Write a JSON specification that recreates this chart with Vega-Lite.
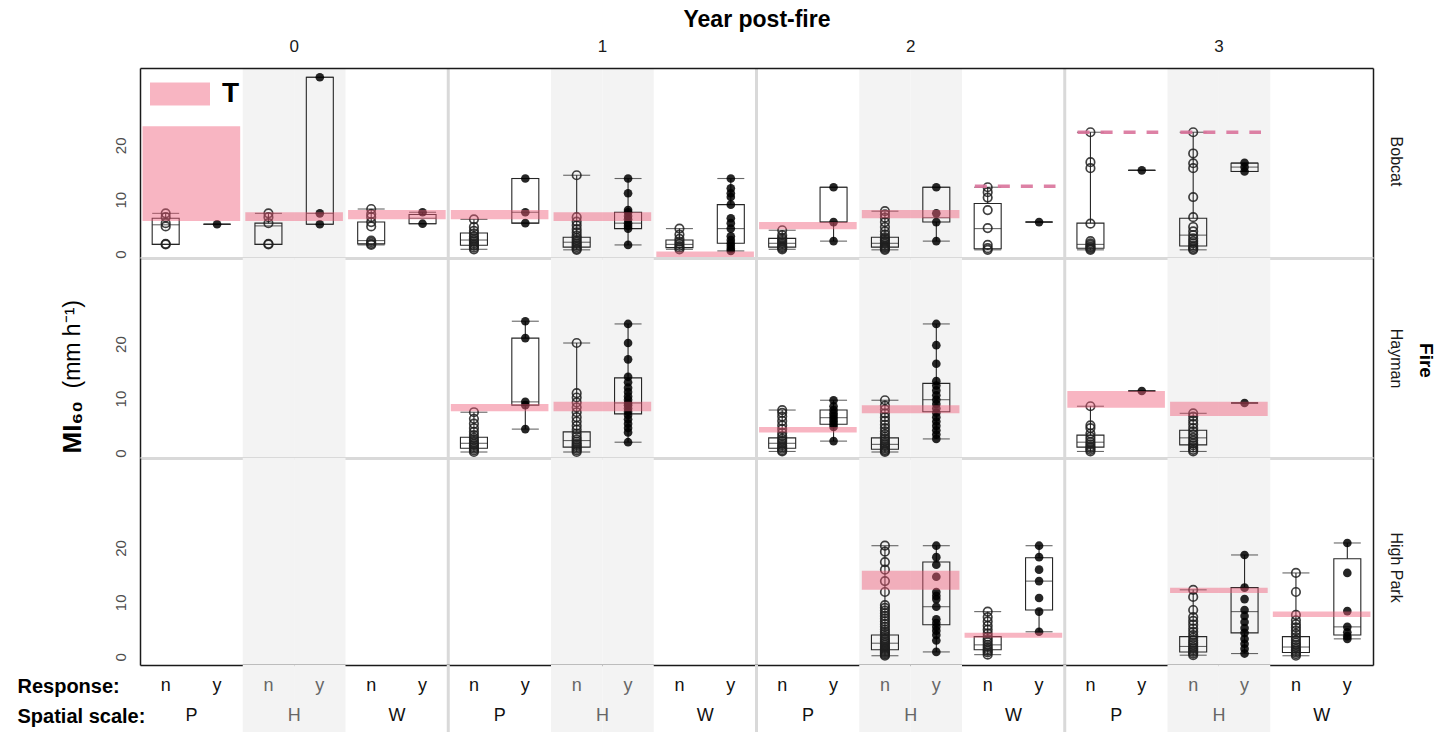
{
  "$schema": "https://vega.github.io/schema/vega-lite/v6.json",
  "padding": {"left": 17, "top": 8, "right": 5, "bottom": 0},
  "config": {
    "font": "Liberation Sans",
    "view": {"stroke": null},
    "axis": {"grid": false, "labelFont": "Liberation Sans", "titleFont": "Liberation Sans"},
    "scale": {"bandPaddingInner": 0, "bandPaddingOuter": 0}
  },
  "datasets": {
    "shade": [{"s": "0 H n"}, {"s": "0 H y"}, {"s": "1 H n"}, {"s": "1 H y"}, {"s": "2 H n"}, {"s": "2 H y"}, {"s": "3 H n"}, {"s": "3 H y"}],
    "seps": [{"s": "1 P n"}, {"s": "2 P n"}, {"s": "3 P n"}],
    "strip": [
      {"row": "Response:", "s": "0 P n", "t": "n"}, {"row": "Response:", "s": "0 P y", "t": "y"},
      {"row": "Response:", "s": "0 H n", "t": "n"}, {"row": "Response:", "s": "0 H y", "t": "y"},
      {"row": "Response:", "s": "0 W n", "t": "n"}, {"row": "Response:", "s": "0 W y", "t": "y"},
      {"row": "Response:", "s": "1 P n", "t": "n"}, {"row": "Response:", "s": "1 P y", "t": "y"},
      {"row": "Response:", "s": "1 H n", "t": "n"}, {"row": "Response:", "s": "1 H y", "t": "y"},
      {"row": "Response:", "s": "1 W n", "t": "n"}, {"row": "Response:", "s": "1 W y", "t": "y"},
      {"row": "Response:", "s": "2 P n", "t": "n"}, {"row": "Response:", "s": "2 P y", "t": "y"},
      {"row": "Response:", "s": "2 H n", "t": "n"}, {"row": "Response:", "s": "2 H y", "t": "y"},
      {"row": "Response:", "s": "2 W n", "t": "n"}, {"row": "Response:", "s": "2 W y", "t": "y"},
      {"row": "Response:", "s": "3 P n", "t": "n"}, {"row": "Response:", "s": "3 P y", "t": "y"},
      {"row": "Response:", "s": "3 H n", "t": "n"}, {"row": "Response:", "s": "3 H y", "t": "y"},
      {"row": "Response:", "s": "3 W n", "t": "n"}, {"row": "Response:", "s": "3 W y", "t": "y"},
      {"row": "Spatial scale:", "s": "0 P n", "t": "P"}, {"row": "Spatial scale:", "s": "0 H n", "t": "H"}, {"row": "Spatial scale:", "s": "0 W n", "t": "W"},
      {"row": "Spatial scale:", "s": "1 P n", "t": "P"}, {"row": "Spatial scale:", "s": "1 H n", "t": "H"}, {"row": "Spatial scale:", "s": "1 W n", "t": "W"},
      {"row": "Spatial scale:", "s": "2 P n", "t": "P"}, {"row": "Spatial scale:", "s": "2 H n", "t": "H"}, {"row": "Spatial scale:", "s": "2 W n", "t": "W"},
      {"row": "Spatial scale:", "s": "3 P n", "t": "P"}, {"row": "Spatial scale:", "s": "3 H n", "t": "H"}, {"row": "Spatial scale:", "s": "3 W n", "t": "W"}
    ],
    "bands": [
      {"f": "Bobcat", "a": "0 P n", "b": "0 P y", "lo": 6.1, "hi": 23.5},
      {"f": "Bobcat", "a": "0 H n", "b": "0 H y", "lo": 6.1, "hi": 7.7},
      {"f": "Bobcat", "a": "0 W n", "b": "0 W y", "lo": 6.4, "hi": 8.1},
      {"f": "Bobcat", "a": "1 P n", "b": "1 P y", "lo": 6.4, "hi": 8.1},
      {"f": "Bobcat", "a": "1 H n", "b": "1 H y", "lo": 6.1, "hi": 7.7},
      {"f": "Bobcat", "a": "1 W n", "b": "1 W y", "lo": -0.7, "hi": 0.5},
      {"f": "Bobcat", "a": "2 P n", "b": "2 P y", "lo": 4.6, "hi": 5.9},
      {"f": "Bobcat", "a": "2 H n", "b": "2 H y", "lo": 6.6, "hi": 8.1},
      {"f": "Hayman", "a": "1 P n", "b": "1 P y", "lo": 7.7, "hi": 9.0},
      {"f": "Hayman", "a": "1 H n", "b": "1 H y", "lo": 7.7, "hi": 9.4},
      {"f": "Hayman", "a": "2 P n", "b": "2 P y", "lo": 3.8, "hi": 4.8},
      {"f": "Hayman", "a": "2 H n", "b": "2 H y", "lo": 7.3, "hi": 8.8},
      {"f": "Hayman", "a": "3 P n", "b": "3 P y", "lo": 8.3, "hi": 11.4},
      {"f": "Hayman", "a": "3 H n", "b": "3 H y", "lo": 6.8, "hi": 9.4},
      {"f": "High Park", "a": "2 H n", "b": "2 H y", "lo": 12.3, "hi": 15.8},
      {"f": "High Park", "a": "2 W n", "b": "2 W y", "lo": 3.5, "hi": 4.4},
      {"f": "High Park", "a": "3 H n", "b": "3 H y", "lo": 11.7, "hi": 12.7},
      {"f": "High Park", "a": "3 W n", "b": "3 W y", "lo": 7.3, "hi": 8.3}
    ],
    "dash": [
      {"f": "Bobcat", "a": "2 W n", "b": "2 W y", "v": 12.5},
      {"f": "Bobcat", "a": "3 P n", "b": "3 P y", "v": 22.4},
      {"f": "Bobcat", "a": "3 H n", "b": "3 H y", "v": 22.4}
    ],
    "boxes": [
      {"f": "Bobcat", "s": "0 P n", "lo": 1.8, "q1": 1.8, "med": 5.4, "q3": 6.6, "hi": 7.5},
      {"f": "Bobcat", "s": "0 P y", "lo": 5.5, "q1": 5.5, "med": 5.5, "q3": 5.5, "hi": 5.5},
      {"f": "Bobcat", "s": "0 H n", "lo": 1.8, "q1": 1.8, "med": 5.2, "q3": 5.7, "hi": 7.5},
      {"f": "Bobcat", "s": "0 H y", "lo": 5.5, "q1": 5.5, "med": 7.5, "q3": 32.5, "hi": 32.5},
      {"f": "Bobcat", "s": "0 W n", "lo": 1.7, "q1": 1.9, "med": 2.5, "q3": 5.9, "hi": 8.3},
      {"f": "Bobcat", "s": "0 W y", "lo": 5.6, "q1": 5.6, "med": 6.6, "q3": 7.3, "hi": 7.7},
      {"f": "Bobcat", "s": "1 P n", "lo": 0.9, "q1": 1.65, "med": 2.6, "q3": 3.9, "hi": 6.4},
      {"f": "Bobcat", "s": "1 P y", "lo": 5.7, "q1": 5.7, "med": 7.7, "q3": 13.9, "hi": 13.9},
      {"f": "Bobcat", "s": "1 H n", "lo": 0.8, "q1": 1.3, "med": 2.2, "q3": 3.1, "hi": 14.5},
      {"f": "Bobcat", "s": "1 H y", "lo": 1.7, "q1": 4.7, "med": 5.7, "q3": 7.7, "hi": 13.9},
      {"f": "Bobcat", "s": "1 W n", "lo": 0.9, "q1": 1.2, "med": 1.8, "q3": 2.6, "hi": 4.7},
      {"f": "Bobcat", "s": "1 W y", "lo": 0.6, "q1": 2.0, "med": 4.7, "q3": 9.1, "hi": 13.9},
      {"f": "Bobcat", "s": "2 P n", "lo": 0.9, "q1": 1.3, "med": 2.0, "q3": 2.9, "hi": 4.4},
      {"f": "Bobcat", "s": "2 P y", "lo": 2.4, "q1": 5.9, "med": 5.9, "q3": 12.3, "hi": 12.3},
      {"f": "Bobcat", "s": "2 H n", "lo": 0.8, "q1": 1.3, "med": 2.0, "q3": 3.1, "hi": 7.9},
      {"f": "Bobcat", "s": "2 H y", "lo": 2.4, "q1": 5.9, "med": 6.7, "q3": 12.3, "hi": 12.3},
      {"f": "Bobcat", "s": "2 W n", "lo": 0.8, "q1": 1.0, "med": 4.7, "q3": 9.3, "hi": 12.3},
      {"f": "Bobcat", "s": "2 W y", "lo": 5.9, "q1": 5.9, "med": 5.9, "q3": 5.9, "hi": 5.9},
      {"f": "Bobcat", "s": "3 P n", "lo": 0.8, "q1": 1.1, "med": 1.8, "q3": 5.7, "hi": 22.4},
      {"f": "Bobcat", "s": "3 P y", "lo": 15.4, "q1": 15.4, "med": 15.4, "q3": 15.4, "hi": 15.4},
      {"f": "Bobcat", "s": "3 H n", "lo": 0.8, "q1": 1.5, "med": 3.5, "q3": 6.6, "hi": 22.4},
      {"f": "Bobcat", "s": "3 H y", "lo": 15.2, "q1": 15.2, "med": 16.0, "q3": 16.7, "hi": 16.8},
      {"f": "Hayman", "s": "1 P n", "lo": 0.2, "q1": 0.9, "med": 1.8, "q3": 2.9, "hi": 7.5},
      {"f": "Hayman", "s": "1 P y", "lo": 4.4, "q1": 8.8, "med": 9.4, "q3": 21.1, "hi": 24.2},
      {"f": "Hayman", "s": "1 H n", "lo": 0.2, "q1": 1.1, "med": 2.3, "q3": 3.9, "hi": 20.2},
      {"f": "Hayman", "s": "1 H y", "lo": 2.0, "q1": 7.2, "med": 9.2, "q3": 13.8, "hi": 23.7},
      {"f": "Hayman", "s": "2 P n", "lo": 0.3, "q1": 0.9, "med": 1.8, "q3": 2.8, "hi": 7.9},
      {"f": "Hayman", "s": "2 P y", "lo": 2.2, "q1": 5.3, "med": 6.5, "q3": 7.9, "hi": 9.7},
      {"f": "Hayman", "s": "2 H n", "lo": 0.2, "q1": 0.7, "med": 1.6, "q3": 2.8, "hi": 9.7},
      {"f": "Hayman", "s": "2 H y", "lo": 2.6, "q1": 7.6, "med": 9.8, "q3": 12.8, "hi": 23.7},
      {"f": "Hayman", "s": "3 P n", "lo": 0.3, "q1": 1.1, "med": 2.0, "q3": 3.3, "hi": 8.6},
      {"f": "Hayman", "s": "3 P y", "lo": 11.4, "q1": 11.4, "med": 11.4, "q3": 11.4, "hi": 11.4},
      {"f": "Hayman", "s": "3 H n", "lo": 0.3, "q1": 1.5, "med": 2.8, "q3": 4.2, "hi": 7.3},
      {"f": "Hayman", "s": "3 H y", "lo": 9.2, "q1": 9.2, "med": 9.2, "q3": 9.2, "hi": 9.2},
      {"f": "High Park", "s": "2 H n", "lo": 0.2, "q1": 1.3, "med": 2.5, "q3": 4.0, "hi": 20.4},
      {"f": "High Park", "s": "2 H y", "lo": 0.9, "q1": 5.9, "med": 9.2, "q3": 17.4, "hi": 20.4},
      {"f": "High Park", "s": "2 W n", "lo": 0.4, "q1": 1.3, "med": 2.2, "q3": 3.7, "hi": 8.3},
      {"f": "High Park", "s": "2 W y", "lo": 4.6, "q1": 8.6, "med": 13.9, "q3": 18.2, "hi": 20.4},
      {"f": "High Park", "s": "3 H n", "lo": 0.3, "q1": 0.9, "med": 1.9, "q3": 3.7, "hi": 12.3},
      {"f": "High Park", "s": "3 H y", "lo": 0.6, "q1": 4.4, "med": 8.3, "q3": 12.7, "hi": 18.7},
      {"f": "High Park", "s": "3 W n", "lo": 0.2, "q1": 0.8, "med": 1.8, "q3": 3.7, "hi": 15.4},
      {"f": "High Park", "s": "3 W y", "lo": 3.3, "q1": 4.0, "med": 5.5, "q3": 18.0, "hi": 20.9}
    ],
    "pts": [
      {"f":"Bobcat","s":"0 P n","v":1.8},{"f":"Bobcat","s":"0 P n","v":1.9},{"f":"Bobcat","s":"0 P n","v":5.1},{"f":"Bobcat","s":"0 P n","v":5.7},{"f":"Bobcat","s":"0 P n","v":6.8},{"f":"Bobcat","s":"0 P n","v":7.5},
      {"f":"Bobcat","s":"0 P y","v":5.5},
      {"f":"Bobcat","s":"0 H n","v":1.8},{"f":"Bobcat","s":"0 H n","v":1.9},{"f":"Bobcat","s":"0 H n","v":5.7},{"f":"Bobcat","s":"0 H n","v":6.8},{"f":"Bobcat","s":"0 H n","v":7.5},
      {"f":"Bobcat","s":"0 H y","v":5.5},{"f":"Bobcat","s":"0 H y","v":7.5},{"f":"Bobcat","s":"0 H y","v":32.5},
      {"f":"Bobcat","s":"0 W n","v":1.7},{"f":"Bobcat","s":"0 W n","v":1.9},{"f":"Bobcat","s":"0 W n","v":2.2},{"f":"Bobcat","s":"0 W n","v":2.5},{"f":"Bobcat","s":"0 W n","v":5.1},{"f":"Bobcat","s":"0 W n","v":5.9},{"f":"Bobcat","s":"0 W n","v":6.8},{"f":"Bobcat","s":"0 W n","v":7.4},{"f":"Bobcat","s":"0 W n","v":8.3},
      {"f":"Bobcat","s":"0 W y","v":5.6},{"f":"Bobcat","s":"0 W y","v":7.7},
      {"f":"Bobcat","s":"1 P n","v":0.9},{"f":"Bobcat","s":"1 P n","v":1.2},{"f":"Bobcat","s":"1 P n","v":1.5},{"f":"Bobcat","s":"1 P n","v":1.7},{"f":"Bobcat","s":"1 P n","v":2.0},{"f":"Bobcat","s":"1 P n","v":2.3},{"f":"Bobcat","s":"1 P n","v":2.6},{"f":"Bobcat","s":"1 P n","v":2.9},{"f":"Bobcat","s":"1 P n","v":3.3},{"f":"Bobcat","s":"1 P n","v":3.8},{"f":"Bobcat","s":"1 P n","v":4.3},{"f":"Bobcat","s":"1 P n","v":5.0},{"f":"Bobcat","s":"1 P n","v":6.4},
      {"f":"Bobcat","s":"1 P y","v":5.7},{"f":"Bobcat","s":"1 P y","v":7.7},{"f":"Bobcat","s":"1 P y","v":13.9},
      {"f":"Bobcat","s":"1 H n","v":0.8},{"f":"Bobcat","s":"1 H n","v":1.0},{"f":"Bobcat","s":"1 H n","v":1.3},{"f":"Bobcat","s":"1 H n","v":1.6},{"f":"Bobcat","s":"1 H n","v":1.9},{"f":"Bobcat","s":"1 H n","v":2.2},{"f":"Bobcat","s":"1 H n","v":2.6},{"f":"Bobcat","s":"1 H n","v":3.0},{"f":"Bobcat","s":"1 H n","v":3.4},{"f":"Bobcat","s":"1 H n","v":4.0},{"f":"Bobcat","s":"1 H n","v":4.6},{"f":"Bobcat","s":"1 H n","v":5.3},{"f":"Bobcat","s":"1 H n","v":6.0},{"f":"Bobcat","s":"1 H n","v":6.8},{"f":"Bobcat","s":"1 H n","v":14.5},
      {"f":"Bobcat","s":"1 H y","v":1.7},{"f":"Bobcat","s":"1 H y","v":4.7},{"f":"Bobcat","s":"1 H y","v":5.2},{"f":"Bobcat","s":"1 H y","v":5.7},{"f":"Bobcat","s":"1 H y","v":6.4},{"f":"Bobcat","s":"1 H y","v":7.0},{"f":"Bobcat","s":"1 H y","v":7.7},{"f":"Bobcat","s":"1 H y","v":8.1},{"f":"Bobcat","s":"1 H y","v":11.2},{"f":"Bobcat","s":"1 H y","v":13.9},
      {"f":"Bobcat","s":"1 W n","v":0.9},{"f":"Bobcat","s":"1 W n","v":1.2},{"f":"Bobcat","s":"1 W n","v":1.5},{"f":"Bobcat","s":"1 W n","v":1.9},{"f":"Bobcat","s":"1 W n","v":2.3},{"f":"Bobcat","s":"1 W n","v":2.8},{"f":"Bobcat","s":"1 W n","v":3.6},{"f":"Bobcat","s":"1 W n","v":4.7},
      {"f":"Bobcat","s":"1 W y","v":0.6},{"f":"Bobcat","s":"1 W y","v":1.0},{"f":"Bobcat","s":"1 W y","v":1.5},{"f":"Bobcat","s":"1 W y","v":2.0},{"f":"Bobcat","s":"1 W y","v":2.6},{"f":"Bobcat","s":"1 W y","v":3.3},{"f":"Bobcat","s":"1 W y","v":4.7},{"f":"Bobcat","s":"1 W y","v":5.7},{"f":"Bobcat","s":"1 W y","v":6.6},{"f":"Bobcat","s":"1 W y","v":9.1},{"f":"Bobcat","s":"1 W y","v":10.5},{"f":"Bobcat","s":"1 W y","v":11.2},{"f":"Bobcat","s":"1 W y","v":12.1},{"f":"Bobcat","s":"1 W y","v":13.9},
      {"f":"Bobcat","s":"2 P n","v":0.9},{"f":"Bobcat","s":"2 P n","v":1.1},{"f":"Bobcat","s":"2 P n","v":1.3},{"f":"Bobcat","s":"2 P n","v":1.5},{"f":"Bobcat","s":"2 P n","v":1.8},{"f":"Bobcat","s":"2 P n","v":2.1},{"f":"Bobcat","s":"2 P n","v":2.4},{"f":"Bobcat","s":"2 P n","v":2.7},{"f":"Bobcat","s":"2 P n","v":3.0},{"f":"Bobcat","s":"2 P n","v":3.5},{"f":"Bobcat","s":"2 P n","v":4.4},
      {"f":"Bobcat","s":"2 P y","v":2.4},{"f":"Bobcat","s":"2 P y","v":5.9},{"f":"Bobcat","s":"2 P y","v":12.3},
      {"f":"Bobcat","s":"2 H n","v":0.8},{"f":"Bobcat","s":"2 H n","v":1.0},{"f":"Bobcat","s":"2 H n","v":1.2},{"f":"Bobcat","s":"2 H n","v":1.4},{"f":"Bobcat","s":"2 H n","v":1.6},{"f":"Bobcat","s":"2 H n","v":1.9},{"f":"Bobcat","s":"2 H n","v":2.2},{"f":"Bobcat","s":"2 H n","v":2.5},{"f":"Bobcat","s":"2 H n","v":2.8},{"f":"Bobcat","s":"2 H n","v":3.1},{"f":"Bobcat","s":"2 H n","v":3.6},{"f":"Bobcat","s":"2 H n","v":4.2},{"f":"Bobcat","s":"2 H n","v":5.0},{"f":"Bobcat","s":"2 H n","v":5.9},{"f":"Bobcat","s":"2 H n","v":6.7},{"f":"Bobcat","s":"2 H n","v":7.3},{"f":"Bobcat","s":"2 H n","v":7.9},
      {"f":"Bobcat","s":"2 H y","v":2.4},{"f":"Bobcat","s":"2 H y","v":5.9},{"f":"Bobcat","s":"2 H y","v":7.5},{"f":"Bobcat","s":"2 H y","v":12.3},
      {"f":"Bobcat","s":"2 W n","v":0.8},{"f":"Bobcat","s":"2 W n","v":1.1},{"f":"Bobcat","s":"2 W n","v":1.7},{"f":"Bobcat","s":"2 W n","v":4.8},{"f":"Bobcat","s":"2 W n","v":8.1},{"f":"Bobcat","s":"2 W n","v":10.4},{"f":"Bobcat","s":"2 W n","v":11.4},{"f":"Bobcat","s":"2 W n","v":12.3},
      {"f":"Bobcat","s":"2 W y","v":5.9},
      {"f":"Bobcat","s":"3 P n","v":0.8},{"f":"Bobcat","s":"3 P n","v":1.0},{"f":"Bobcat","s":"3 P n","v":1.2},{"f":"Bobcat","s":"3 P n","v":1.4},{"f":"Bobcat","s":"3 P n","v":1.7},{"f":"Bobcat","s":"3 P n","v":2.0},{"f":"Bobcat","s":"3 P n","v":2.4},{"f":"Bobcat","s":"3 P n","v":5.6},{"f":"Bobcat","s":"3 P n","v":15.8},{"f":"Bobcat","s":"3 P n","v":16.9},{"f":"Bobcat","s":"3 P n","v":22.4},
      {"f":"Bobcat","s":"3 P y","v":15.4},
      {"f":"Bobcat","s":"3 H n","v":0.8},{"f":"Bobcat","s":"3 H n","v":1.0},{"f":"Bobcat","s":"3 H n","v":1.3},{"f":"Bobcat","s":"3 H n","v":1.6},{"f":"Bobcat","s":"3 H n","v":2.0},{"f":"Bobcat","s":"3 H n","v":2.4},{"f":"Bobcat","s":"3 H n","v":2.9},{"f":"Bobcat","s":"3 H n","v":3.5},{"f":"Bobcat","s":"3 H n","v":4.2},{"f":"Bobcat","s":"3 H n","v":5.0},{"f":"Bobcat","s":"3 H n","v":6.8},{"f":"Bobcat","s":"3 H n","v":10.5},{"f":"Bobcat","s":"3 H n","v":15.8},{"f":"Bobcat","s":"3 H n","v":16.7},{"f":"Bobcat","s":"3 H n","v":18.5},{"f":"Bobcat","s":"3 H n","v":22.4},
      {"f":"Bobcat","s":"3 H y","v":15.2},{"f":"Bobcat","s":"3 H y","v":16.0},{"f":"Bobcat","s":"3 H y","v":16.8},
      {"f":"Hayman","s":"1 P n","v":0.2},{"f":"Hayman","s":"1 P n","v":0.5},{"f":"Hayman","s":"1 P n","v":0.8},{"f":"Hayman","s":"1 P n","v":1.1},{"f":"Hayman","s":"1 P n","v":1.4},{"f":"Hayman","s":"1 P n","v":1.7},{"f":"Hayman","s":"1 P n","v":2.0},{"f":"Hayman","s":"1 P n","v":2.4},{"f":"Hayman","s":"1 P n","v":2.8},{"f":"Hayman","s":"1 P n","v":3.3},{"f":"Hayman","s":"1 P n","v":3.9},{"f":"Hayman","s":"1 P n","v":4.6},{"f":"Hayman","s":"1 P n","v":5.4},{"f":"Hayman","s":"1 P n","v":6.3},{"f":"Hayman","s":"1 P n","v":7.5},
      {"f":"Hayman","s":"1 P y","v":4.4},{"f":"Hayman","s":"1 P y","v":8.8},{"f":"Hayman","s":"1 P y","v":9.4},{"f":"Hayman","s":"1 P y","v":21.1},{"f":"Hayman","s":"1 P y","v":24.2},
      {"f":"Hayman","s":"1 H n","v":0.2},{"f":"Hayman","s":"1 H n","v":0.5},{"f":"Hayman","s":"1 H n","v":0.8},{"f":"Hayman","s":"1 H n","v":1.1},{"f":"Hayman","s":"1 H n","v":1.4},{"f":"Hayman","s":"1 H n","v":1.7},{"f":"Hayman","s":"1 H n","v":2.1},{"f":"Hayman","s":"1 H n","v":2.5},{"f":"Hayman","s":"1 H n","v":3.0},{"f":"Hayman","s":"1 H n","v":3.6},{"f":"Hayman","s":"1 H n","v":4.3},{"f":"Hayman","s":"1 H n","v":5.0},{"f":"Hayman","s":"1 H n","v":5.8},{"f":"Hayman","s":"1 H n","v":6.6},{"f":"Hayman","s":"1 H n","v":7.5},{"f":"Hayman","s":"1 H n","v":8.4},{"f":"Hayman","s":"1 H n","v":9.3},{"f":"Hayman","s":"1 H n","v":10.2},{"f":"Hayman","s":"1 H n","v":11.0},{"f":"Hayman","s":"1 H n","v":20.2},
      {"f":"Hayman","s":"1 H y","v":2.0},{"f":"Hayman","s":"1 H y","v":3.8},{"f":"Hayman","s":"1 H y","v":4.6},{"f":"Hayman","s":"1 H y","v":5.4},{"f":"Hayman","s":"1 H y","v":6.2},{"f":"Hayman","s":"1 H y","v":7.0},{"f":"Hayman","s":"1 H y","v":7.6},{"f":"Hayman","s":"1 H y","v":8.2},{"f":"Hayman","s":"1 H y","v":8.8},{"f":"Hayman","s":"1 H y","v":9.2},{"f":"Hayman","s":"1 H y","v":9.8},{"f":"Hayman","s":"1 H y","v":10.4},{"f":"Hayman","s":"1 H y","v":11.2},{"f":"Hayman","s":"1 H y","v":12.0},{"f":"Hayman","s":"1 H y","v":13.0},{"f":"Hayman","s":"1 H y","v":14.0},{"f":"Hayman","s":"1 H y","v":17.2},{"f":"Hayman","s":"1 H y","v":20.2},{"f":"Hayman","s":"1 H y","v":23.7},
      {"f":"Hayman","s":"2 P n","v":0.3},{"f":"Hayman","s":"2 P n","v":0.5},{"f":"Hayman","s":"2 P n","v":0.8},{"f":"Hayman","s":"2 P n","v":1.1},{"f":"Hayman","s":"2 P n","v":1.4},{"f":"Hayman","s":"2 P n","v":1.8},{"f":"Hayman","s":"2 P n","v":2.2},{"f":"Hayman","s":"2 P n","v":2.6},{"f":"Hayman","s":"2 P n","v":3.1},{"f":"Hayman","s":"2 P n","v":3.7},{"f":"Hayman","s":"2 P n","v":4.4},{"f":"Hayman","s":"2 P n","v":5.1},{"f":"Hayman","s":"2 P n","v":5.9},{"f":"Hayman","s":"2 P n","v":6.7},{"f":"Hayman","s":"2 P n","v":7.4},{"f":"Hayman","s":"2 P n","v":7.9},
      {"f":"Hayman","s":"2 P y","v":2.2},{"f":"Hayman","s":"2 P y","v":4.8},{"f":"Hayman","s":"2 P y","v":5.3},{"f":"Hayman","s":"2 P y","v":5.8},{"f":"Hayman","s":"2 P y","v":6.3},{"f":"Hayman","s":"2 P y","v":6.8},{"f":"Hayman","s":"2 P y","v":7.3},{"f":"Hayman","s":"2 P y","v":7.9},{"f":"Hayman","s":"2 P y","v":8.6},{"f":"Hayman","s":"2 P y","v":9.7},
      {"f":"Hayman","s":"2 H n","v":0.2},{"f":"Hayman","s":"2 H n","v":0.4},{"f":"Hayman","s":"2 H n","v":0.6},{"f":"Hayman","s":"2 H n","v":0.9},{"f":"Hayman","s":"2 H n","v":1.2},{"f":"Hayman","s":"2 H n","v":1.5},{"f":"Hayman","s":"2 H n","v":1.8},{"f":"Hayman","s":"2 H n","v":2.2},{"f":"Hayman","s":"2 H n","v":2.6},{"f":"Hayman","s":"2 H n","v":3.0},{"f":"Hayman","s":"2 H n","v":3.5},{"f":"Hayman","s":"2 H n","v":4.0},{"f":"Hayman","s":"2 H n","v":4.6},{"f":"Hayman","s":"2 H n","v":5.2},{"f":"Hayman","s":"2 H n","v":5.9},{"f":"Hayman","s":"2 H n","v":6.6},{"f":"Hayman","s":"2 H n","v":7.3},{"f":"Hayman","s":"2 H n","v":8.0},{"f":"Hayman","s":"2 H n","v":8.7},{"f":"Hayman","s":"2 H n","v":9.7},
      {"f":"Hayman","s":"2 H y","v":2.6},{"f":"Hayman","s":"2 H y","v":3.4},{"f":"Hayman","s":"2 H y","v":4.2},{"f":"Hayman","s":"2 H y","v":5.0},{"f":"Hayman","s":"2 H y","v":5.8},{"f":"Hayman","s":"2 H y","v":6.6},{"f":"Hayman","s":"2 H y","v":7.4},{"f":"Hayman","s":"2 H y","v":8.2},{"f":"Hayman","s":"2 H y","v":9.0},{"f":"Hayman","s":"2 H y","v":9.8},{"f":"Hayman","s":"2 H y","v":10.6},{"f":"Hayman","s":"2 H y","v":11.5},{"f":"Hayman","s":"2 H y","v":12.4},{"f":"Hayman","s":"2 H y","v":13.2},{"f":"Hayman","s":"2 H y","v":16.4},{"f":"Hayman","s":"2 H y","v":19.8},{"f":"Hayman","s":"2 H y","v":23.7},
      {"f":"Hayman","s":"3 P n","v":0.3},{"f":"Hayman","s":"3 P n","v":0.6},{"f":"Hayman","s":"3 P n","v":0.9},{"f":"Hayman","s":"3 P n","v":1.2},{"f":"Hayman","s":"3 P n","v":1.6},{"f":"Hayman","s":"3 P n","v":2.0},{"f":"Hayman","s":"3 P n","v":2.5},{"f":"Hayman","s":"3 P n","v":3.0},{"f":"Hayman","s":"3 P n","v":3.6},{"f":"Hayman","s":"3 P n","v":4.6},{"f":"Hayman","s":"3 P n","v":5.1},{"f":"Hayman","s":"3 P n","v":8.6},
      {"f":"Hayman","s":"3 P y","v":11.4},
      {"f":"Hayman","s":"3 H n","v":0.3},{"f":"Hayman","s":"3 H n","v":0.6},{"f":"Hayman","s":"3 H n","v":1.0},{"f":"Hayman","s":"3 H n","v":1.4},{"f":"Hayman","s":"3 H n","v":1.8},{"f":"Hayman","s":"3 H n","v":2.3},{"f":"Hayman","s":"3 H n","v":2.8},{"f":"Hayman","s":"3 H n","v":3.4},{"f":"Hayman","s":"3 H n","v":4.0},{"f":"Hayman","s":"3 H n","v":4.6},{"f":"Hayman","s":"3 H n","v":5.3},{"f":"Hayman","s":"3 H n","v":6.0},{"f":"Hayman","s":"3 H n","v":6.7},{"f":"Hayman","s":"3 H n","v":7.3},
      {"f":"Hayman","s":"3 H y","v":9.2},
      {"f":"High Park","s":"2 H n","v":0.2},{"f":"High Park","s":"2 H n","v":0.4},{"f":"High Park","s":"2 H n","v":0.6},{"f":"High Park","s":"2 H n","v":0.8},{"f":"High Park","s":"2 H n","v":1.0},{"f":"High Park","s":"2 H n","v":1.2},{"f":"High Park","s":"2 H n","v":1.4},{"f":"High Park","s":"2 H n","v":1.6},{"f":"High Park","s":"2 H n","v":1.9},{"f":"High Park","s":"2 H n","v":2.2},{"f":"High Park","s":"2 H n","v":2.5},{"f":"High Park","s":"2 H n","v":2.8},{"f":"High Park","s":"2 H n","v":3.1},{"f":"High Park","s":"2 H n","v":3.4},{"f":"High Park","s":"2 H n","v":3.8},{"f":"High Park","s":"2 H n","v":4.2},{"f":"High Park","s":"2 H n","v":4.6},{"f":"High Park","s":"2 H n","v":5.0},{"f":"High Park","s":"2 H n","v":5.5},{"f":"High Park","s":"2 H n","v":6.0},{"f":"High Park","s":"2 H n","v":6.5},{"f":"High Park","s":"2 H n","v":7.0},{"f":"High Park","s":"2 H n","v":7.5},{"f":"High Park","s":"2 H n","v":8.0},{"f":"High Park","s":"2 H n","v":8.5},{"f":"High Park","s":"2 H n","v":9.0},{"f":"High Park","s":"2 H n","v":9.5},{"f":"High Park","s":"2 H n","v":11.9},{"f":"High Park","s":"2 H n","v":13.9},{"f":"High Park","s":"2 H n","v":16.0},{"f":"High Park","s":"2 H n","v":17.4},{"f":"High Park","s":"2 H n","v":19.3},{"f":"High Park","s":"2 H n","v":20.4},
      {"f":"High Park","s":"2 H y","v":0.9},{"f":"High Park","s":"2 H y","v":3.0},{"f":"High Park","s":"2 H y","v":4.0},{"f":"High Park","s":"2 H y","v":4.8},{"f":"High Park","s":"2 H y","v":5.5},{"f":"High Park","s":"2 H y","v":6.2},{"f":"High Park","s":"2 H y","v":6.9},{"f":"High Park","s":"2 H y","v":9.2},{"f":"High Park","s":"2 H y","v":10.6},{"f":"High Park","s":"2 H y","v":11.2},{"f":"High Park","s":"2 H y","v":11.9},{"f":"High Park","s":"2 H y","v":14.7},{"f":"High Park","s":"2 H y","v":16.9},{"f":"High Park","s":"2 H y","v":18.3},{"f":"High Park","s":"2 H y","v":20.4},
      {"f":"High Park","s":"2 W n","v":0.4},{"f":"High Park","s":"2 W n","v":0.8},{"f":"High Park","s":"2 W n","v":1.1},{"f":"High Park","s":"2 W n","v":1.4},{"f":"High Park","s":"2 W n","v":1.8},{"f":"High Park","s":"2 W n","v":2.2},{"f":"High Park","s":"2 W n","v":2.7},{"f":"High Park","s":"2 W n","v":3.2},{"f":"High Park","s":"2 W n","v":3.7},{"f":"High Park","s":"2 W n","v":4.3},{"f":"High Park","s":"2 W n","v":5.0},{"f":"High Park","s":"2 W n","v":5.7},{"f":"High Park","s":"2 W n","v":6.5},{"f":"High Park","s":"2 W n","v":7.3},{"f":"High Park","s":"2 W n","v":8.3},
      {"f":"High Park","s":"2 W y","v":4.6},{"f":"High Park","s":"2 W y","v":8.3},{"f":"High Park","s":"2 W y","v":10.8},{"f":"High Park","s":"2 W y","v":13.9},{"f":"High Park","s":"2 W y","v":16.0},{"f":"High Park","s":"2 W y","v":18.3},{"f":"High Park","s":"2 W y","v":20.4},
      {"f":"High Park","s":"3 H n","v":0.3},{"f":"High Park","s":"3 H n","v":0.6},{"f":"High Park","s":"3 H n","v":0.9},{"f":"High Park","s":"3 H n","v":1.2},{"f":"High Park","s":"3 H n","v":1.5},{"f":"High Park","s":"3 H n","v":1.8},{"f":"High Park","s":"3 H n","v":2.2},{"f":"High Park","s":"3 H n","v":2.6},{"f":"High Park","s":"3 H n","v":3.0},{"f":"High Park","s":"3 H n","v":3.5},{"f":"High Park","s":"3 H n","v":4.0},{"f":"High Park","s":"3 H n","v":4.6},{"f":"High Park","s":"3 H n","v":5.2},{"f":"High Park","s":"3 H n","v":5.9},{"f":"High Park","s":"3 H n","v":6.6},{"f":"High Park","s":"3 H n","v":7.3},{"f":"High Park","s":"3 H n","v":8.6},{"f":"High Park","s":"3 H n","v":11.0},{"f":"High Park","s":"3 H n","v":12.3},
      {"f":"High Park","s":"3 H y","v":0.6},{"f":"High Park","s":"3 H y","v":1.5},{"f":"High Park","s":"3 H y","v":2.4},{"f":"High Park","s":"3 H y","v":3.3},{"f":"High Park","s":"3 H y","v":4.4},{"f":"High Park","s":"3 H y","v":5.3},{"f":"High Park","s":"3 H y","v":6.4},{"f":"High Park","s":"3 H y","v":7.5},{"f":"High Park","s":"3 H y","v":8.6},{"f":"High Park","s":"3 H y","v":10.6},{"f":"High Park","s":"3 H y","v":12.7},{"f":"High Park","s":"3 H y","v":18.7},
      {"f":"High Park","s":"3 W n","v":0.2},{"f":"High Park","s":"3 W n","v":0.5},{"f":"High Park","s":"3 W n","v":0.8},{"f":"High Park","s":"3 W n","v":1.1},{"f":"High Park","s":"3 W n","v":1.4},{"f":"High Park","s":"3 W n","v":1.8},{"f":"High Park","s":"3 W n","v":2.2},{"f":"High Park","s":"3 W n","v":2.6},{"f":"High Park","s":"3 W n","v":3.1},{"f":"High Park","s":"3 W n","v":3.6},{"f":"High Park","s":"3 W n","v":4.2},{"f":"High Park","s":"3 W n","v":4.8},{"f":"High Park","s":"3 W n","v":5.4},{"f":"High Park","s":"3 W n","v":6.0},{"f":"High Park","s":"3 W n","v":6.7},{"f":"High Park","s":"3 W n","v":7.7},{"f":"High Park","s":"3 W n","v":11.9},{"f":"High Park","s":"3 W n","v":15.4},
      {"f":"High Park","s":"3 W y","v":3.3},{"f":"High Park","s":"3 W y","v":3.8},{"f":"High Park","s":"3 W y","v":4.5},{"f":"High Park","s":"3 W y","v":5.5},{"f":"High Park","s":"3 W y","v":8.4},{"f":"High Park","s":"3 W y","v":15.4},{"f":"High Park","s":"3 W y","v":20.9}
    ]
  },
  "spacing": 0,
  "bounds": "flush",
  "resolve": {"scale": {"color": "independent"}, "legend": {"color": "independent"}},
  "vconcat": [
    {
      "width": 1233, "height": 190,
      "resolve": {"axis": {"x": "independent", "y": "independent"}},
      "layer": [
        {"data": {"name": "shade"}, "mark": {"type": "rect", "color": "#f3f3f3"},
         "encoding": {"x": {"field": "s", "type": "nominal",
           "scale": {"type": "band", "domain": ["0 P n","0 P y","0 H n","0 H y","0 W n","0 W y","1 P n","1 P y","1 H n","1 H y","1 W n","1 W y","2 P n","2 P y","2 H n","2 H y","2 W n","2 W y","3 P n","3 P y","3 H n","3 H y","3 W n","3 W y"], "paddingInner": 0, "paddingOuter": 0},
           "axis": null}}},
        {"data": {"name": "seps"}, "mark": {"type": "rule", "color": "#d9d9d9", "strokeWidth": 3},
         "encoding": {"x": {"field": "s", "type": "nominal", "bandPosition": 0, "axis": null}}},
        {"data": {"name": "boxes"}, "transform": [{"filter": "datum.f === 'Bobcat'"}],
         "mark": {"type": "rule", "color": "#262626", "strokeWidth": 1.1},
         "encoding": {"x": {"field": "s", "type": "nominal", "axis": null},
           "y": {"field": "lo", "type": "quantitative", "scale": {"domain": [-0.7, 34.2], "nice": false, "zero": false},
             "axis": {"orient": "left", "values": [0, 10, 20], "ticks": false, "domainColor": "#1a1a1a", "domainWidth": 1.5, "labelAngle": -90, "labelAlign": "center", "labelBaseline": "bottom", "labelPadding": 12, "labelFontSize": 15, "labelColor": "#4d4d4d", "title": null}},
           "y2": {"field": "q1"}}},
        {"data": {"name": "boxes"}, "transform": [{"filter": "datum.f === 'Bobcat'"}],
         "mark": {"type": "rule", "color": "#262626", "strokeWidth": 1.1},
         "encoding": {"x": {"field": "s", "type": "nominal", "axis": null}, "y": {"field": "q3", "type": "quantitative", "axis": null}, "y2": {"field": "hi"}}},
        {"data": {"name": "boxes"}, "transform": [{"filter": "datum.f === 'Bobcat'"}],
         "mark": {"type": "bar", "size": 27, "fillOpacity": 0, "stroke": "#262626", "strokeWidth": 1.1},
         "encoding": {"x": {"field": "s", "type": "nominal",
             "axis": {"orient": "bottom", "labels": false, "ticks": false, "domainColor": "#d9d9d9", "domainWidth": 3, "title": null, "zindex": 1}},
           "y": {"field": "q1", "type": "quantitative",
             "axis": {"orient": "right", "labels": false, "ticks": false, "domainColor": "#1a1a1a", "domainWidth": 1.5, "title": "Bobcat", "titleAngle": 90, "titleAlign": "center", "titleBaseline": "middle", "titleX": 22, "titleY": 93, "titleFontSize": 16, "titleFontWeight": "normal", "titleColor": "#1a1a1a"}},
           "y2": {"field": "q3"}}},
        {"data": {"name": "boxes"}, "transform": [{"filter": "datum.f === 'Bobcat'"}],
         "mark": {"type": "tick", "size": 27, "thickness": 1.1, "color": "#262626"},
         "encoding": {"x": {"field": "s", "type": "nominal",
             "axis": {"orient": "top", "values": ["0 H n", "1 H n", "2 H n", "3 H n"], "labelOffset": 25.7, "labelExpr": "substring(datum.value, 0, 1)", "labelAngle": 0, "ticks": false, "domainColor": "#1a1a1a", "domainWidth": 1.5, "labelFontSize": 17, "labelColor": "#1a1a1a", "labelPadding": 13, "title": "Year post-fire", "titleFontSize": 23, "titleFontWeight": "bold", "titleColor": "#000", "titlePadding": 6, "zindex": 1}},
           "y": {"field": "med", "type": "quantitative", "axis": null}}},
        {"data": {"name": "boxes"}, "transform": [{"filter": "datum.f === 'Bobcat'"}],
         "mark": {"type": "tick", "size": 27, "thickness": 1.1, "color": "#262626"},
         "encoding": {"x": {"field": "s", "type": "nominal", "axis": null}, "y": {"field": "lo", "type": "quantitative", "axis": null}}},
        {"data": {"name": "boxes"}, "transform": [{"filter": "datum.f === 'Bobcat'"}],
         "mark": {"type": "tick", "size": 27, "thickness": 1.1, "color": "#262626"},
         "encoding": {"x": {"field": "s", "type": "nominal", "axis": null}, "y": {"field": "hi", "type": "quantitative", "axis": null}}},
        {"data": {"name": "pts"}, "transform": [{"filter": "datum.f === 'Bobcat' && substring(datum.s, 4) === 'n'"}],
         "mark": {"type": "point", "shape": "circle", "size": 72, "filled": false, "stroke": "#1f1f1f", "strokeWidth": 1.7, "opacity": 0.85},
         "encoding": {"x": {"field": "s", "type": "nominal", "axis": null}, "y": {"field": "v", "type": "quantitative", "axis": null}}},
        {"data": {"name": "pts"}, "transform": [{"filter": "datum.f === 'Bobcat' && substring(datum.s, 4) === 'y'"}],
         "mark": {"type": "point", "shape": "circle", "size": 75, "filled": true, "color": "#000000", "opacity": 0.85},
         "encoding": {"x": {"field": "s", "type": "nominal", "axis": null}, "y": {"field": "v", "type": "quantitative", "axis": null}}},
        {"data": {"name": "bands"}, "transform": [{"filter": "datum.f === 'Bobcat'"}],
         "mark": {"type": "rect", "opacity": 0.45},
         "encoding": {"x": {"field": "a", "type": "nominal", "bandPosition": 0.05, "axis": null}, "x2": {"field": "b", "bandPosition": 0.95},
           "y": {"field": "lo", "type": "quantitative", "axis": null}, "y2": {"field": "hi"},
           "color": {"datum": "T", "type": "nominal", "scale": {"domain": ["T"], "range": ["#f05a78"]},
             "legend": {"orient": "none", "legendX": 10, "legendY": -4, "title": null, "symbolType": "M-1,-0.383H1V0.383H-1Z", "symbolSize": 3600, "symbolStrokeWidth": 0, "labelFontSize": 28, "labelFontWeight": "bold", "labelColor": "#000", "labelOffset": 12, "padding": 0}}}},
        {"data": {"name": "dash"}, "transform": [{"filter": "datum.f === 'Bobcat'"}],
         "mark": {"type": "rule", "color": "#d9739b", "strokeWidth": 3.5, "strokeDash": [12, 11], "opacity": 0.9},
         "encoding": {"x": {"field": "a", "type": "nominal", "bandPosition": 0.25, "axis": null}, "x2": {"field": "b", "bandPosition": 0.82},
           "y": {"field": "v", "type": "quantitative", "axis": null}}}
      ]
    },
    {
      "width": 1233, "height": 200,
      "resolve": {"axis": {"x": "independent", "y": "independent"}},
      "layer": [
        {"data": {"name": "shade"}, "mark": {"type": "rect", "color": "#f3f3f3"},
         "encoding": {"x": {"field": "s", "type": "nominal",
           "scale": {"type": "band", "domain": ["0 P n","0 P y","0 H n","0 H y","0 W n","0 W y","1 P n","1 P y","1 H n","1 H y","1 W n","1 W y","2 P n","2 P y","2 H n","2 H y","2 W n","2 W y","3 P n","3 P y","3 H n","3 H y","3 W n","3 W y"], "paddingInner": 0, "paddingOuter": 0},
           "axis": null}}},
        {"data": {"name": "seps"}, "mark": {"type": "rule", "color": "#d9d9d9", "strokeWidth": 3},
         "encoding": {"x": {"field": "s", "type": "nominal", "bandPosition": 0, "axis": null}}},
        {"data": {"name": "boxes"}, "transform": [{"filter": "datum.f === 'Hayman'"}],
         "mark": {"type": "rule", "color": "#262626", "strokeWidth": 1.1},
         "encoding": {"x": {"field": "s", "type": "nominal", "axis": null},
           "y": {"field": "lo", "type": "quantitative", "scale": {"domain": [-0.9, 35.8], "nice": false, "zero": false},
             "axis": {"orient": "left", "values": [0, 10, 20], "ticks": false, "domainColor": "#1a1a1a", "domainWidth": 1.5, "labelAngle": -90, "labelAlign": "center", "labelBaseline": "bottom", "labelPadding": 12, "labelFontSize": 15, "labelColor": "#4d4d4d",
               "title": "(mm h⁻¹)", "titleAngle": -90, "titleAlign": "left", "titleBaseline": "middle", "titleX": -68, "titleY": 130, "titleFontSize": 23, "titleFontWeight": "normal", "titleColor": "#000"}},
           "y2": {"field": "q1"}}},
        {"data": {"name": "boxes"}, "transform": [{"filter": "datum.f === 'Hayman'"}],
         "mark": {"type": "rule", "color": "#262626", "strokeWidth": 1.1},
         "encoding": {"x": {"field": "s", "type": "nominal", "axis": null},
           "y": {"field": "q3", "type": "quantitative",
             "axis": {"orient": "left", "labels": false, "ticks": false, "domain": false, "title": "MI₆₀", "titleAngle": -90, "titleAlign": "left", "titleBaseline": "middle", "titleX": -68, "titleY": 195, "titleFontSize": 26, "titleFontWeight": "bold", "titleColor": "#000"}},
           "y2": {"field": "hi"}}},
        {"data": {"name": "boxes"}, "transform": [{"filter": "datum.f === 'Hayman'"}],
         "mark": {"type": "bar", "size": 27, "fillOpacity": 0, "stroke": "#262626", "strokeWidth": 1.1},
         "encoding": {"x": {"field": "s", "type": "nominal",
             "axis": {"orient": "bottom", "labels": false, "ticks": false, "domainColor": "#d9d9d9", "domainWidth": 3, "title": null, "zindex": 1}},
           "y": {"field": "q1", "type": "quantitative",
             "axis": {"orient": "right", "labels": false, "ticks": false, "domainColor": "#1a1a1a", "domainWidth": 1.5, "title": "Hayman", "titleAngle": 90, "titleAlign": "center", "titleBaseline": "middle", "titleX": 22, "titleY": 100, "titleFontSize": 16, "titleFontWeight": "normal", "titleColor": "#1a1a1a"}},
           "y2": {"field": "q3"}}},
        {"data": {"name": "boxes"}, "transform": [{"filter": "datum.f === 'Hayman'"}],
         "mark": {"type": "tick", "size": 27, "thickness": 1.1, "color": "#262626"},
         "encoding": {"x": {"field": "s", "type": "nominal", "axis": null},
           "y": {"field": "med", "type": "quantitative",
             "axis": {"orient": "right", "labels": false, "ticks": false, "domain": false, "title": "Fire", "titleAngle": 90, "titleAlign": "center", "titleBaseline": "middle", "titleX": 52, "titleY": 102, "titleFontSize": 19, "titleFontWeight": "bold", "titleColor": "#000"}}}},
        {"data": {"name": "boxes"}, "transform": [{"filter": "datum.f === 'Hayman'"}],
         "mark": {"type": "tick", "size": 27, "thickness": 1.1, "color": "#262626"},
         "encoding": {"x": {"field": "s", "type": "nominal", "axis": null}, "y": {"field": "lo", "type": "quantitative", "axis": null}}},
        {"data": {"name": "boxes"}, "transform": [{"filter": "datum.f === 'Hayman'"}],
         "mark": {"type": "tick", "size": 27, "thickness": 1.1, "color": "#262626"},
         "encoding": {"x": {"field": "s", "type": "nominal", "axis": null}, "y": {"field": "hi", "type": "quantitative", "axis": null}}},
        {"data": {"name": "pts"}, "transform": [{"filter": "datum.f === 'Hayman' && substring(datum.s, 4) === 'n'"}],
         "mark": {"type": "point", "shape": "circle", "size": 72, "filled": false, "stroke": "#1f1f1f", "strokeWidth": 1.7, "opacity": 0.85},
         "encoding": {"x": {"field": "s", "type": "nominal", "axis": null}, "y": {"field": "v", "type": "quantitative", "axis": null}}},
        {"data": {"name": "pts"}, "transform": [{"filter": "datum.f === 'Hayman' && substring(datum.s, 4) === 'y'"}],
         "mark": {"type": "point", "shape": "circle", "size": 75, "filled": true, "color": "#000000", "opacity": 0.85},
         "encoding": {"x": {"field": "s", "type": "nominal", "axis": null}, "y": {"field": "v", "type": "quantitative", "axis": null}}},
        {"data": {"name": "bands"}, "transform": [{"filter": "datum.f === 'Hayman'"}],
         "mark": {"type": "rect", "color": "#f05a78", "opacity": 0.45},
         "encoding": {"x": {"field": "a", "type": "nominal", "bandPosition": 0.05, "axis": null}, "x2": {"field": "b", "bandPosition": 0.95},
           "y": {"field": "lo", "type": "quantitative", "axis": null}, "y2": {"field": "hi"}}}
      ]
    },
    {
      "width": 1233, "height": 207,
      "resolve": {"axis": {"x": "independent", "y": "independent"}},
      "layer": [
        {"data": {"name": "shade"}, "mark": {"type": "rect", "color": "#f3f3f3"},
         "encoding": {"x": {"field": "s", "type": "nominal",
           "scale": {"type": "band", "domain": ["0 P n","0 P y","0 H n","0 H y","0 W n","0 W y","1 P n","1 P y","1 H n","1 H y","1 W n","1 W y","2 P n","2 P y","2 H n","2 H y","2 W n","2 W y","3 P n","3 P y","3 H n","3 H y","3 W n","3 W y"], "paddingInner": 0, "paddingOuter": 0},
           "axis": null}}},
        {"data": {"name": "seps"}, "mark": {"type": "rule", "color": "#d9d9d9", "strokeWidth": 3},
         "encoding": {"x": {"field": "s", "type": "nominal", "bandPosition": 0, "axis": null}}},
        {"data": {"name": "boxes"}, "transform": [{"filter": "datum.f === 'High Park'"}],
         "mark": {"type": "rule", "color": "#262626", "strokeWidth": 1.1},
         "encoding": {"x": {"field": "s", "type": "nominal", "axis": null},
           "y": {"field": "lo", "type": "quantitative", "scale": {"domain": [-1.5, 36.5], "nice": false, "zero": false},
             "axis": {"orient": "left", "values": [0, 10, 20], "ticks": false, "domainColor": "#1a1a1a", "domainWidth": 1.5, "labelAngle": -90, "labelAlign": "center", "labelBaseline": "bottom", "labelPadding": 12, "labelFontSize": 15, "labelColor": "#4d4d4d", "title": null}},
           "y2": {"field": "q1"}}},
        {"data": {"name": "boxes"}, "transform": [{"filter": "datum.f === 'High Park'"}],
         "mark": {"type": "rule", "color": "#262626", "strokeWidth": 1.1},
         "encoding": {"x": {"field": "s", "type": "nominal", "axis": null}, "y": {"field": "q3", "type": "quantitative", "axis": null}, "y2": {"field": "hi"}}},
        {"data": {"name": "boxes"}, "transform": [{"filter": "datum.f === 'High Park'"}],
         "mark": {"type": "bar", "size": 27, "fillOpacity": 0, "stroke": "#262626", "strokeWidth": 1.1},
         "encoding": {"x": {"field": "s", "type": "nominal",
             "axis": {"orient": "bottom", "labels": false, "ticks": false, "domainColor": "#1a1a1a", "domainWidth": 1.5, "title": null, "zindex": 1}},
           "y": {"field": "q1", "type": "quantitative",
             "axis": {"orient": "right", "labels": false, "ticks": false, "domainColor": "#1a1a1a", "domainWidth": 1.5, "title": "High Park", "titleAngle": 90, "titleAlign": "center", "titleBaseline": "middle", "titleX": 22, "titleY": 109, "titleFontSize": 16, "titleFontWeight": "normal", "titleColor": "#1a1a1a"}},
           "y2": {"field": "q3"}}},
        {"data": {"name": "boxes"}, "transform": [{"filter": "datum.f === 'High Park'"}],
         "mark": {"type": "tick", "size": 27, "thickness": 1.1, "color": "#262626"},
         "encoding": {"x": {"field": "s", "type": "nominal", "axis": null}, "y": {"field": "med", "type": "quantitative", "axis": null}}},
        {"data": {"name": "boxes"}, "transform": [{"filter": "datum.f === 'High Park'"}],
         "mark": {"type": "tick", "size": 27, "thickness": 1.1, "color": "#262626"},
         "encoding": {"x": {"field": "s", "type": "nominal", "axis": null}, "y": {"field": "lo", "type": "quantitative", "axis": null}}},
        {"data": {"name": "boxes"}, "transform": [{"filter": "datum.f === 'High Park'"}],
         "mark": {"type": "tick", "size": 27, "thickness": 1.1, "color": "#262626"},
         "encoding": {"x": {"field": "s", "type": "nominal", "axis": null}, "y": {"field": "hi", "type": "quantitative", "axis": null}}},
        {"data": {"name": "pts"}, "transform": [{"filter": "datum.f === 'High Park' && substring(datum.s, 4) === 'n'"}],
         "mark": {"type": "point", "shape": "circle", "size": 72, "filled": false, "stroke": "#1f1f1f", "strokeWidth": 1.7, "opacity": 0.85},
         "encoding": {"x": {"field": "s", "type": "nominal", "axis": null}, "y": {"field": "v", "type": "quantitative", "axis": null}}},
        {"data": {"name": "pts"}, "transform": [{"filter": "datum.f === 'High Park' && substring(datum.s, 4) === 'y'"}],
         "mark": {"type": "point", "shape": "circle", "size": 75, "filled": true, "color": "#000000", "opacity": 0.85},
         "encoding": {"x": {"field": "s", "type": "nominal", "axis": null}, "y": {"field": "v", "type": "quantitative", "axis": null}}},
        {"data": {"name": "bands"}, "transform": [{"filter": "datum.f === 'High Park'"}],
         "mark": {"type": "rect", "color": "#f05a78", "opacity": 0.45},
         "encoding": {"x": {"field": "a", "type": "nominal", "bandPosition": 0.05, "axis": null}, "x2": {"field": "b", "bandPosition": 0.95},
           "y": {"field": "lo", "type": "quantitative", "axis": null}, "y2": {"field": "hi"}}}
      ]
    },
    {
      "width": 1233, "height": 67,
      "resolve": {"axis": {"y": "independent"}},
      "layer": [
        {"data": {"name": "shade"}, "mark": {"type": "rect", "color": "#f3f3f3"},
         "encoding": {"x": {"field": "s", "type": "nominal",
           "scale": {"type": "band", "domain": ["0 P n","0 P y","0 H n","0 H y","0 W n","0 W y","1 P n","1 P y","1 H n","1 H y","1 W n","1 W y","2 P n","2 P y","2 H n","2 H y","2 W n","2 W y","3 P n","3 P y","3 H n","3 H y","3 W n","3 W y"], "paddingInner": 0, "paddingOuter": 0},
           "axis": null}}},
        {"data": {"name": "seps"}, "mark": {"type": "rule", "color": "#d9d9d9", "strokeWidth": 3},
         "encoding": {"x": {"field": "s", "type": "nominal", "bandPosition": 0, "axis": null}}},
        {"data": {"name": "strip"}, "transform": [{"filter": "datum.row === 'Response:'"}],
         "mark": {"type": "text", "fontSize": 18, "baseline": "middle"},
         "encoding": {"x": {"field": "s", "type": "nominal", "axis": null},
           "y": {"field": "row", "type": "nominal", "scale": {"type": "band", "domain": ["Response:", "Spatial scale:"], "paddingInner": 0, "paddingOuter": 0.1167, "align": 0.857},
             "axis": {"orient": "left", "labels": false, "ticks": false, "domain": false, "title": "Response:", "titleAngle": 0, "titleAlign": "left", "titleBaseline": "middle", "titleX": -123, "titleY": 21, "titleFontSize": 20, "titleFontWeight": "bold", "titleColor": "#000"}},
           "text": {"field": "t"},
           "color": {"condition": {"test": "substring(datum.s, 2, 3) === 'H'", "value": "#666666"}, "value": "#111111"}}},
        {"data": {"name": "strip"}, "transform": [{"filter": "datum.row === 'Spatial scale:'"}],
         "mark": {"type": "text", "fontSize": 18, "baseline": "middle"},
         "encoding": {"x": {"field": "s", "type": "nominal", "bandPosition": 1, "axis": null},
           "y": {"field": "row", "type": "nominal",
             "axis": {"orient": "left", "labels": false, "ticks": false, "domain": false, "title": "Spatial scale:", "titleAngle": 0, "titleAlign": "left", "titleBaseline": "middle", "titleX": -123, "titleY": 51, "titleFontSize": 20, "titleFontWeight": "bold", "titleColor": "#000"}},
           "text": {"field": "t"},
           "color": {"condition": {"test": "substring(datum.s, 2, 3) === 'H'", "value": "#666666"}, "value": "#111111"}}}
      ]
    }
  ]
}
